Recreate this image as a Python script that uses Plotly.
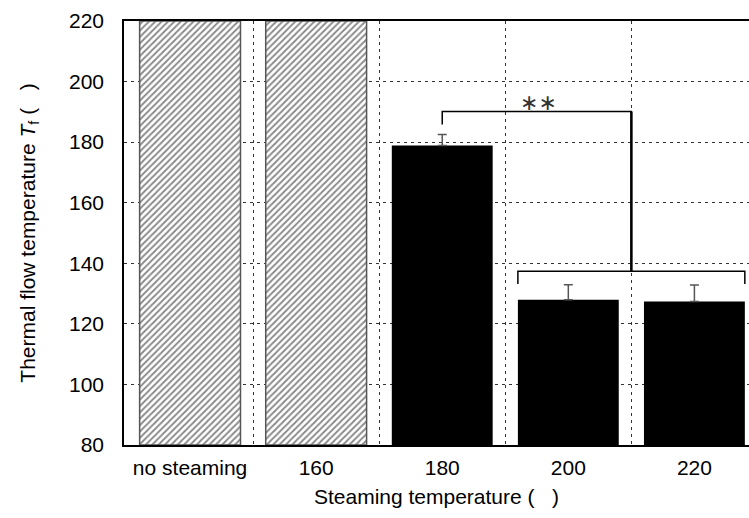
import plotly.graph_objects as go

categories = ["no steaming", "160", "180", "200", "220"]
flow_temp = [220, 220, 178.9, 128.0, 127.4]
flow_err = [0, 0, 3.6, 4.9, 5.4]
hatched = [True, True, False, False, False]
bar_width = 0.8

# significance bracket levels (data units)
bracket_top = 190.1
bracket_top_leg = 185.8
bracket_low = 137.4
bracket_low_leg = 133.2
sig_label = "\u2217\u2217"

x_idx = list(range(len(categories)))
hx = [i for i, h in zip(x_idx, hatched) if h]
hy = [v for v, h in zip(flow_temp, hatched) if h]
sx = [i for i, h in zip(x_idx, hatched) if not h]
sy = [v for v, h in zip(flow_temp, hatched) if not h]
se = [e for e, h in zip(flow_err, hatched) if not h]

fig = go.Figure()
fig.add_trace(go.Bar(
    x=hx, y=[v - 80 for v in hy], width=bar_width, base=80,
    marker=dict(color="white", line=dict(color="#555555", width=1.5),
                pattern=dict(shape="/", size=4.5, solidity=0.4, fgcolor="#111111", bgcolor="white")),
    showlegend=False))
fig.add_trace(go.Bar(
    x=sx, y=[v - 80 for v in sy], base=80, width=bar_width,
    marker=dict(color="black", line=dict(width=0)),
    error_y=dict(type="data", array=se, arrayminus=[0] * len(se), symmetric=False,
                 color="#555555", thickness=1.5, width=4.5),
    showlegend=False))

# bracket 180 vs (200, 220)
i180, i200, i220 = 2, 3, 4
mid = (i200 + i220) / 2
fig.add_trace(go.Scatter(
    x=[i180, i180, mid, mid], y=[bracket_top_leg, bracket_top, bracket_top, bracket_low],
    mode="lines", line=dict(color="black", width=1.5), showlegend=False, hoverinfo="skip"))
fig.add_trace(go.Scatter(
    x=[mid, mid], y=[bracket_top, bracket_low],
    mode="lines", line=dict(color="black", width=2.5), showlegend=False, hoverinfo="skip"))
fig.add_trace(go.Scatter(
    x=[i200 - bar_width / 2, i200 - bar_width / 2, i220 + bar_width / 2, i220 + bar_width / 2],
    y=[bracket_low_leg, bracket_low, bracket_low, bracket_low_leg],
    mode="lines", line=dict(color="black", width=1.5), showlegend=False, hoverinfo="skip"))
fig.add_annotation(x=2.76, y=193.1, text=sig_label, showarrow=False,
                   font=dict(size=22, family="DejaVu Sans", color="#333333"),
                   xanchor="center", yanchor="middle")

font = "Liberation Sans"
fs = 21
fig.update_layout(
    width=749, height=518,
    margin=dict(l=124, r=0, t=21, b=73),
    plot_bgcolor="white", paper_bgcolor="white",
    barmode="overlay",
    font=dict(family=font, size=fs, color="black"),
    xaxis=dict(
        range=[-0.524, 4.433], tickvals=x_idx, ticktext=categories,
        showgrid=False, zeroline=False, ticks="", ticklabelstandoff=3,
        showline=True, linecolor="black", linewidth=1.5, mirror=True,
        tickfont=dict(size=fs),
        minor=dict(tickvals=[i + 0.5 for i in x_idx[:-1]], showgrid=True,
                   gridcolor="#333333", gridwidth=1, griddash="3px,4px", ticks=""),
        title=dict(text="Steaming temperature (\u00a0\u00a0\u00a0)", standoff=11,
                   font=dict(size=fs)),
    ),
    yaxis=dict(
        range=[80, 220], tickvals=[80, 100, 120, 140, 160, 180, 200, 220],
        showgrid=True, gridcolor="#333333", gridwidth=1, griddash="3px,4px",
        zeroline=False, ticks="", ticklabelstandoff=14,
        showline=True, linecolor="black", linewidth=1.5,
        tickfont=dict(size=fs),
        title=dict(text="Thermal flow temperature <i>T</i><sub>f</sub> (\u00a0\u00a0\u00a0)",
                   standoff=28, font=dict(size=fs)),
    ),
)

fig.write_html("out.html")
